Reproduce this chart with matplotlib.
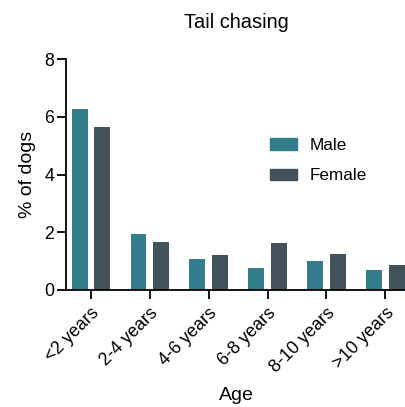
import numpy as np
import matplotlib.pyplot as plt
from matplotlib.patches import Patch

plt.rcParams['font.family'] = ['Liberation Sans', 'DejaVu Sans']

ages = ['<2 years', '2-4 years', '4-6 years', '6-8 years', '8-10 years', '>10 years']
male = [6.26, 1.94, 1.07, 0.76, 1.00, 0.69]
female = [5.63, 1.66, 1.21, 1.63, 1.25, 0.86]

c_male = '#327C8B'
c_female = '#41525A'

fig = plt.figure(figsize=(4.06, 4.07), dpi=100)
ax = fig.add_axes([0.1626, 0.2875, 0.8374, 0.5675])

x = np.arange(len(ages))
w = 0.27
ax.bar(x - 0.19, male, w, color=c_male, label='Male')
ax.bar(x + 0.19, female, w, color=c_female, label='Female')

ax.set_xlim(-0.42, 5.35)
ax.set_ylim(0, 8)
ax.set_yticks([0, 2, 4, 6, 8])
ax.set_xticks(x)
ax.set_xticklabels(ages, rotation=45, ha='right', rotation_mode='anchor')

for s in ['top', 'right']:
    ax.spines[s].set_visible(False)
for s in ['left', 'bottom']:
    ax.spines[s].set_linewidth(1.3)
ax.tick_params(axis='both', width=1.3, length=6.5, labelsize=12.8, colors='black', pad=2)
ax.tick_params(axis='x', pad=4)

ax.set_title('Tail chasing', fontsize=14.4, pad=22)
ax.set_ylabel('% of dogs', fontsize=14, labelpad=6)
ax.set_xlabel('Age', fontsize=14, labelpad=8)

handles = [Patch(color=c_male, label='Male'), Patch(color=c_female, label='Female')]
ax.legend(handles=handles, loc='upper left', bbox_to_anchor=(0.555, 0.725), frameon=False,
          fontsize=12.3, handlelength=1.55, handleheight=0.65, handletextpad=0.75,
          labelspacing=0.9)

fig.savefig('out.png', dpi=100)
